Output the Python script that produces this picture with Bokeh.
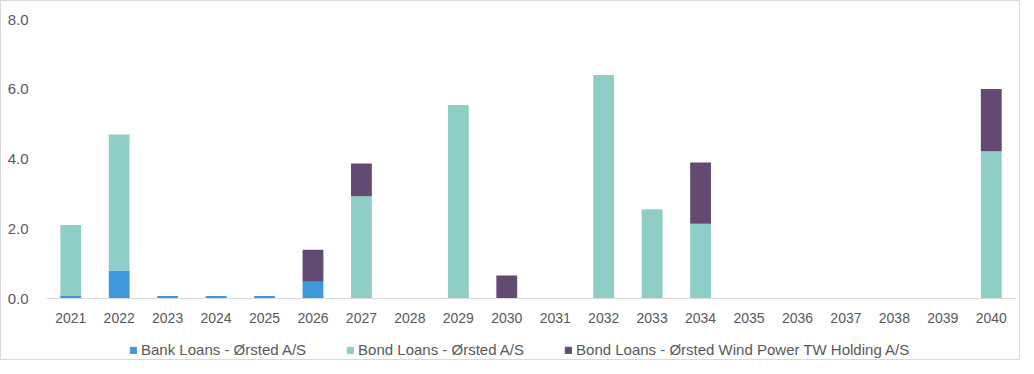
from bokeh.plotting import figure
from bokeh.layouts import column
from bokeh.models import ColumnDataSource, FixedTicker, Legend, LegendItem, NumeralTickFormatter, Range1d
from bokeh.embed import file_html
from bokeh.resources import INLINE

years = [str(y) for y in range(2021, 2041)]
bank = [0.07, 0.80, 0.07, 0.07, 0.07, 0.48, 0, 0, 0, 0, 0, 0, 0, 0, 0, 0, 0, 0, 0, 0]
bond = [2.04, 3.90, 0, 0, 0, 0, 2.93, 0, 5.55, 0, 0, 6.41, 2.56, 2.14, 0, 0, 0, 0, 0, 4.22]
bond_tw = [0, 0, 0, 0, 0, 0.92, 0.94, 0, 0, 0.66, 0, 0, 0, 1.76, 0, 0, 0, 0, 0, 1.79]
series = ["Bank Loans - Ørsted A/S", "Bond Loans - Ørsted A/S", "Bond Loans - Ørsted Wind Power TW Holding A/S"]
colors = ["#3E98DA", "#8ECEC7", "#634A73"]
y_ticks = [0, 2, 4, 6, 8]

src = ColumnDataSource(dict(x=years, bank=bank, bond=bond, tw=bond_tw))
font = "Liberation Sans"

p = figure(x_range=years, y_range=Range1d(0, 8), width=1018, height=324,
           output_backend="svg", toolbar_location=None,
           min_border_left=45, min_border_right=4, min_border_top=18, min_border_bottom=25)
r = p.vbar_stack(["bank", "bond", "tw"], x="x", width=0.43, color=colors, source=src, line_color=None)

p.outline_line_color = None
p.xgrid.visible = False
p.ygrid.visible = False

p.xaxis.axis_line_color = "#D9D9D9"
p.xaxis.major_tick_line_color = None
p.xaxis.minor_tick_line_color = None
p.xaxis.major_label_text_font = font
p.xaxis.major_label_text_font_size = "14px"
p.xaxis.major_label_text_color = "#595959"
p.xaxis.major_label_standoff = 8
p.x_range.range_padding = 0

p.yaxis.axis_line_color = None
p.yaxis.major_tick_line_color = None
p.yaxis.minor_tick_line_color = None
p.yaxis.ticker = FixedTicker(ticks=y_ticks)
p.yaxis.formatter = NumeralTickFormatter(format="0.0")
p.yaxis.major_label_text_font = font
p.yaxis.major_label_text_font_size = "15px"
p.yaxis.major_label_text_color = "#595959"
p.yaxis.major_label_standoff = 12

# legend strip below the chart
lg = figure(x_range=(0, 1), y_range=(0, 1), width=1018, height=34,
            output_backend="svg", toolbar_location=None,
            x_axis_location=None, y_axis_location=None,
            min_border=0, min_border_left=0, min_border_right=0, min_border_top=0, min_border_bottom=0)
lg.outline_line_color = None
lg.xgrid.visible = False
lg.ygrid.visible = False
hidden = ColumnDataSource(dict(x=[5], top=[0]))
dummies = [lg.vbar(x="x", top="top", width=0.5, fill_color=c, line_color=c, source=hidden) for c in colors]

legend = Legend(items=[LegendItem(label=s, renderers=[rr]) for s, rr in zip(series, dummies)],
                orientation="horizontal", location=(83, 1),
                label_text_font=font, label_text_font_size="15px", label_text_color="#595959",
                glyph_width=8, glyph_height=8, label_standoff=4, spacing=40,
                border_line_color=None, background_fill_alpha=0, padding=0, margin=0)
lg.add_layout(legend, "center")

layout = column(p, lg, spacing=0)
layout.styles = {"border": "1px solid #D9D9D9"}

open("out.html", "w").write(file_html(layout, INLINE))
